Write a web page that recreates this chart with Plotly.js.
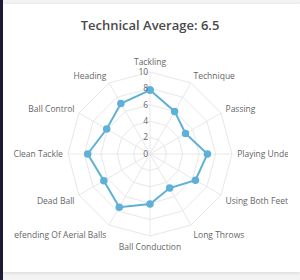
<!DOCTYPE html>
<html>
<head>
<meta charset="utf-8">
<script src="https://cdn.plot.ly/plotly-3.0.1.min.js"></script>
<style>
  html, body { margin: 0; padding: 0; width: 300px; height: 280px; overflow: hidden; background: #f3f3f3; }
  #bar { position: absolute; left: 0; top: 0; width: 3px; height: 280px; background: #1d1b3a; }
  #card { position: absolute; left: 3px; top: 4px; width: 297px; height: 268px; background: #ffffff; box-shadow: 0 1px 4px rgba(0,0,0,0.12); }
  #clip { position: absolute; left: 14px; top: 0; width: 274px; height: 280px; overflow: hidden; }
  #chart { position: absolute; left: 0; top: 0; width: 274px; height: 280px; }
</style>
</head>
<body>
<div id="bar"></div>
<div id="card"></div>
<div id="clip"><div id="chart"></div></div>
<script>
const categories = ["Tackling", "Technique", "Passing", "Playing Under Pressure", "Using Both Feet", "Long Throws",
  "Ball Conduction", "Defending Of Aerial Balls", "Dead Ball", "Clean Tackle", "Ball Control", "Heading"];
const values = [7.8, 6, 5, 7, 6.4, 4.8, 6.1, 7.5, 6.5, 7.6, 6.1, 7.1];
const tickVals = [0, 2, 4, 6, 8, 10];
const titleText = "Technical Average: 6.5";

const W = 274, H = 280;
const cx = 136, cy = 154, R = 82;

const trace = {
  type: "scatterpolar",
  r: values.concat([values[0]]),
  theta: categories.concat([categories[0]]),
  mode: "lines+markers",
  line: { color: "#5eb1d6", width: 2 },
  marker: { color: "#5eb1d6", size: 7.5 },
  hoverinfo: "skip",
  showlegend: false
};

const layout = {
  width: W, height: H,
  margin: { l: 0, r: 0, t: 0, b: 0 },
  paper_bgcolor: "rgba(0,0,0,0)",
  plot_bgcolor: "rgba(0,0,0,0)",
  font: { family: "Open Sans, sans-serif", color: "#666666", size: 8.5 },
  title: {
    text: titleText,
    x: cx / W, xanchor: "center", xref: "container",
    y: 1 - 25 / H, yanchor: "middle", yref: "container",
    font: { family: "Open Sans, sans-serif", size: 13, color: "#4a4a4a", weight: 600 }
  },
  polar: {
    domain: { x: [(cx - R) / W, (cx + R) / W], y: [(H - cy - R) / H, (H - cy + R) / H] },
    bgcolor: "rgba(0,0,0,0)",
    gridshape: "linear",
    radialaxis: {
      range: [0, 10],
      tickvals: tickVals,
      angle: 90,
      tickangle: 90,
      side: "counterclockwise",
      showline: false,
      ticks: "",
      gridcolor: "#e8e8e8",
      gridwidth: 1,
      tickfont: { size: 8.5, color: "#666666" }
    },
    angularaxis: {
      categoryarray: categories,
      rotation: 90,
      direction: "clockwise",
      gridcolor: "#e8e8e8",
      linecolor: "#e8e8e8",
      showline: true,
      ticks: "outside",
      ticklen: 3,
      tickcolor: "rgba(0,0,0,0)",
      tickfont: { size: 8.5, color: "#666666" }
    }
  }
};

Plotly.newPlot("chart", [trace], layout, { displayModeBar: false, staticPlot: true });
</script>
</body>
</html>
